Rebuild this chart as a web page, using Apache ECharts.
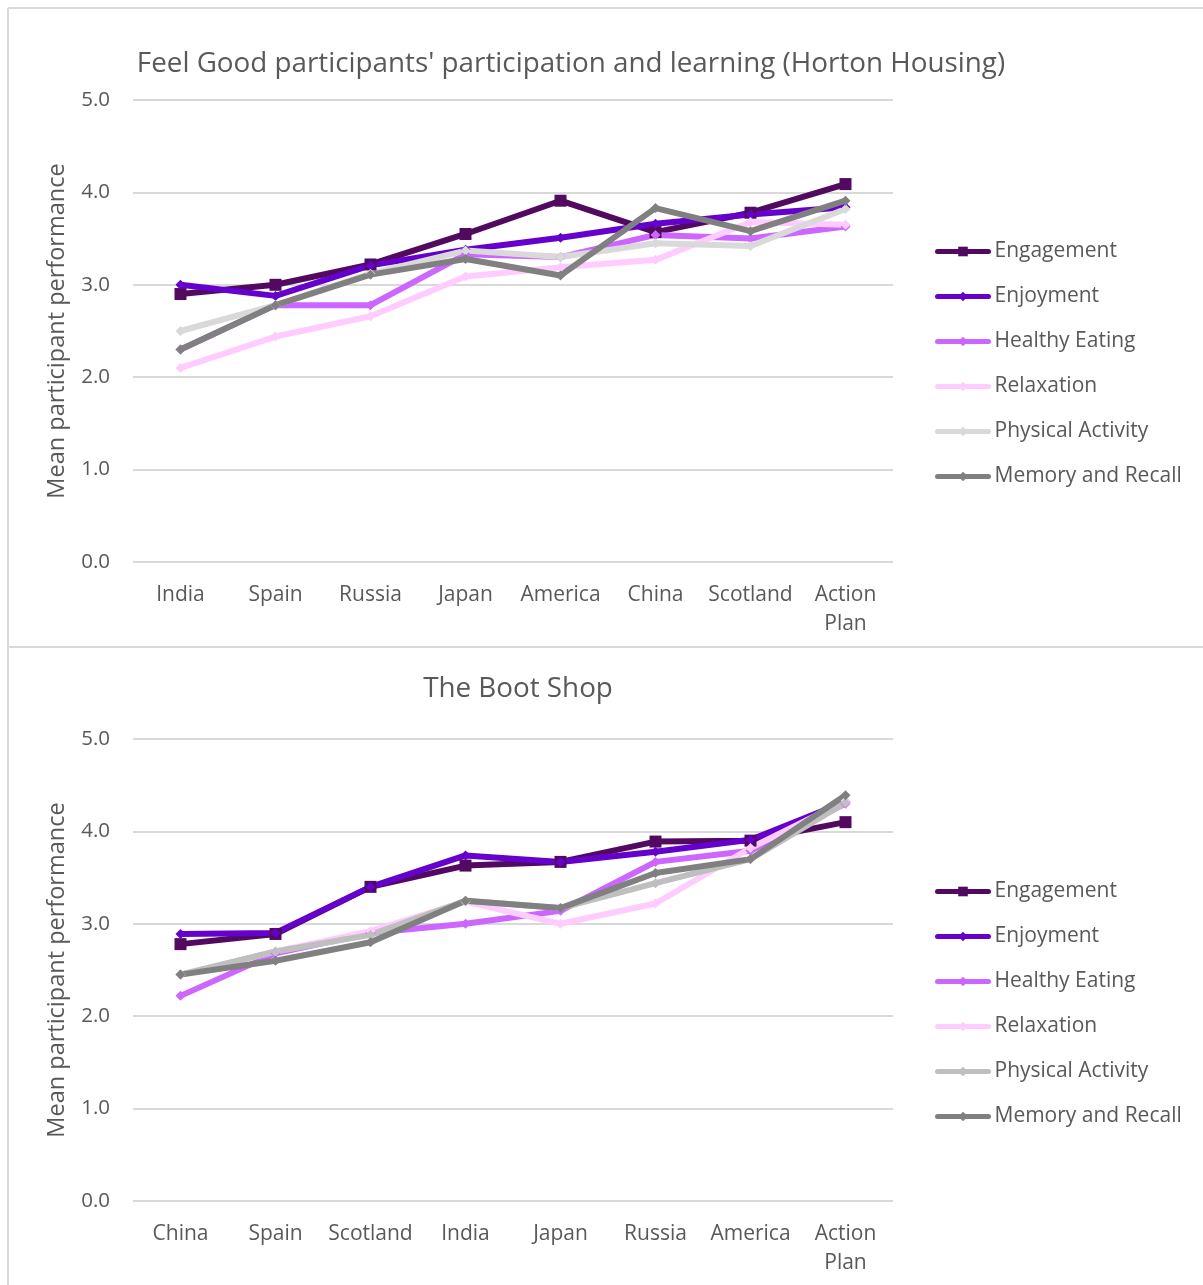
<!DOCTYPE html>
<html>
<head>
<meta charset="utf-8">
<script src="https://cdn.jsdelivr.net/npm/echarts@6/dist/echarts.min.js"></script>
<style>
  html, body { margin: 0; padding: 0; background: #fff; }
  #chart { width: 1203px; height: 1285px; }
</style>
</head>
<body>
<div id="chart"></div>
<script>
// series names shared by both charts
const seriesNames = ['Engagement', 'Enjoyment', 'Healthy Eating', 'Relaxation', 'Physical Activity', 'Memory and Recall']
const yTicks = [0, 1, 2, 3, 4, 5]

// top chart: Horton Housing
const hortonCategories = ['India', 'Spain', 'Russia', 'Japan', 'America', 'China', 'Scotland', 'Action Plan']
const hortonEngagement = [2.90, 3.00, 3.22, 3.55, 3.91, 3.57, 3.78, 4.09]
const hortonEnjoyment = [3.00, 2.88, 3.21, 3.38, 3.51, 3.66, 3.76, 3.84]
const hortonHealthy = [2.30, 2.78, 2.78, 3.33, 3.30, 3.54, 3.50, 3.63]
const hortonRelaxation = [2.10, 2.44, 2.66, 3.09, 3.19, 3.27, 3.68, 3.65]
const hortonPhysical = [2.50, 2.78, 3.12, 3.37, 3.30, 3.45, 3.42, 3.82]
const hortonMemory = [2.30, 2.78, 3.11, 3.28, 3.10, 3.83, 3.58, 3.91]

// bottom chart: The Boot Shop
const bootCategories = ['China', 'Spain', 'Scotland', 'India', 'Japan', 'Russia', 'America', 'Action Plan']
const bootEngagement = [2.78, 2.89, 3.40, 3.63, 3.67, 3.89, 3.90, 4.10]
const bootEnjoyment = [2.89, 2.90, 3.40, 3.74, 3.67, 3.78, 3.91, 4.32]
const bootHealthy = [2.22, 2.68, 2.90, 3.00, 3.14, 3.67, 3.79, 4.30]
const bootRelaxation = [2.45, 2.70, 2.92, 3.24, 3.00, 3.22, 3.82, 4.33]
const bootPhysical = [2.45, 2.70, 2.88, 3.25, 3.17, 3.44, 3.70, 4.31]
const bootMemory = [2.45, 2.60, 2.80, 3.25, 3.17, 3.55, 3.70, 4.39]

const hortonData = [hortonEngagement, hortonEnjoyment, hortonHealthy, hortonRelaxation, hortonPhysical, hortonMemory]
const bootData = [bootEngagement, bootEnjoyment, bootHealthy, bootRelaxation, bootPhysical, bootMemory]

const colorsTop = ['#520a61', '#6600cc', '#cc66ff', '#ffccff', '#d9d9d9', '#808080']
const colorsBottom = ['#520a61', '#6600cc', '#cc66ff', '#ffccff', '#bfbfbf', '#808080']
const symbols = ['rect', 'diamond', 'diamond', 'diamond', 'diamond', 'diamond']

const fontFamily = '"Open Sans", "Noto Sans", sans-serif'
const textColor = '#595959'
const gridColor = '#d9d9d9'
const seriesLineW = 6
const legendLineW = 5

const grids = [
  { left: 133, right: 310, top: 100, height: 462 },
  { left: 133, right: 310, top: 739, height: 462 }
]

function makeXAxis (cats, idx) {
  return {
    type: 'category',
    gridIndex: idx,
    data: cats,
    boundaryGap: true,
    axisLine: { show: false },
    axisTick: { show: false },
    axisLabel: {
      color: textColor,
      fontFamily: fontFamily,
      fontSize: 21,
      margin: 19,
      lineHeight: 29,
      interval: 0,
      formatter: v => v.replace(' ', '\n')
    }
  }
}

function makeYAxis (idx) {
  return {
    type: 'value',
    gridIndex: idx,
    min: yTicks[0],
    max: yTicks[yTicks.length - 1],
    interval: 1,
    name: 'Mean participant performance',
    nameLocation: 'middle',
    nameGap: 64,
    nameTextStyle: { color: textColor, fontFamily: fontFamily, fontSize: 23.5 },
    axisLine: { show: false },
    axisTick: { show: false },
    splitLine: { lineStyle: { color: gridColor, width: 2 } },
    axisLabel: {
      color: textColor,
      fontFamily: fontFamily,
      fontSize: 20.5,
      margin: 23,
      formatter: v => v.toFixed(1)
    }
  }
}

function makeSeries (dataArr, colors, idx) {
  return dataArr.map((vals, i) => ({
    name: seriesNames[i],
    type: 'line',
    xAxisIndex: idx,
    yAxisIndex: idx,
    data: vals,
    symbol: symbols[i],
    symbolSize: i === 0 ? 12 : 10,
    showAllSymbol: true,
    lineStyle: { color: colors[i], width: seriesLineW, cap: 'round', join: 'round' },
    itemStyle: { color: colors[i], borderWidth: 0 },
    emphasis: { disabled: true },
    animation: false
  }))
}

function makeLegend (colors, top) {
  return {
    orient: 'vertical',
    left: 930,
    top: top,
    itemWidth: 51,
    itemHeight: 12,
    itemGap: 24,
    data: seriesNames.map((n, i) => ({
      name: n,
      itemStyle: { color: colors[i] },
      lineStyle: { color: colors[i], width: legendLineW, cap: 'round' }
    })),
    textStyle: { color: textColor, fontFamily: fontFamily, fontSize: 21, lineHeight: 21, padding: [0, 0, 0, 1] }
  }
}

const chart = echarts.init(document.getElementById('chart'))
const option = {
  backgroundColor: '#fff',
  animation: false,
  title: [
    {
      text: "Feel Good participants' participation and learning (Horton Housing)",
      left: 566,
      top: 45,
      textAlign: 'center',
      textStyle: { color: textColor, fontFamily: fontFamily, fontSize: 27.8, fontWeight: 'normal' }
    },
    {
      text: 'The Boot Shop',
      left: 513,
      top: 670,
      textAlign: 'center',
      textStyle: { color: textColor, fontFamily: fontFamily, fontSize: 27.8, fontWeight: 'normal' }
    }
  ],
  legend: [
    makeLegend(colorsTop, 236),
    makeLegend(colorsBottom, 876)
  ],
  grid: grids,
  xAxis: [makeXAxis(hortonCategories, 0), makeXAxis(bootCategories, 1)],
  yAxis: [makeYAxis(0), makeYAxis(1)],
  series: makeSeries(hortonData, colorsTop, 0).concat(makeSeries(bootData, colorsBottom, 1)),
  graphic: [
    { type: 'line', shape: { x1: 8, y1: 8, x2: 1203, y2: 8 }, style: { stroke: gridColor, lineWidth: 2 } },
    { type: 'line', shape: { x1: 8, y1: 8, x2: 8, y2: 1285 }, style: { stroke: gridColor, lineWidth: 2 } },
    { type: 'line', shape: { x1: 8, y1: 647, x2: 1203, y2: 647 }, style: { stroke: gridColor, lineWidth: 2 } }
  ]
}
chart.setOption(option)
</script>
</body>
</html>
